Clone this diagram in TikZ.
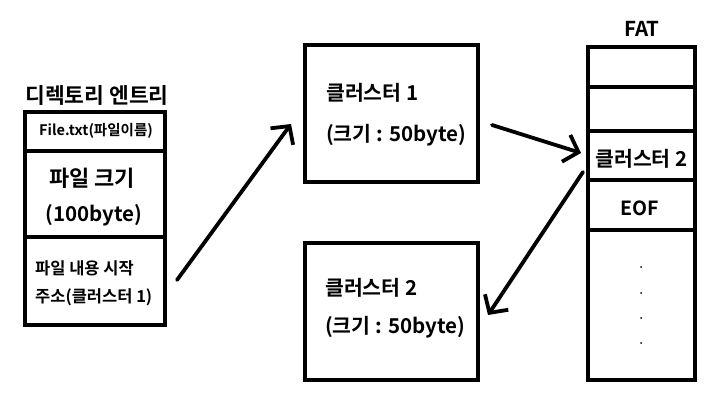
\documentclass[tikz,border=0pt]{standalone}
\usepackage{fontspec}
\setmainfont{Noto Sans CJK KR}[BoldFont={Noto Sans CJK KR Bold}]
\usetikzlibrary{calc,arrows.meta}
\begin{document}
\begin{tikzpicture}[x=1pt,y=-1pt,
  cell/.style={draw=black,line width=4pt,rectangle,inner sep=0pt,minimum width=#1},
  txt/.style={inner sep=0pt,font=\bfseries\fontsize{20.5}{22}\selectfont},
  small/.style={inner sep=0pt,font=\bfseries\fontsize{16.5}{18}\selectfont},
  conn/.style={line width=3.8pt,line cap=round,line join=round,-{Straight Barb[length=13pt,width=28pt,line width=3.8pt]}}]
\useasboundingbox[fill=white] (0,0) rectangle (720,407);
% directory entry
\node[txt,font=\bfseries\fontsize{21.5}{23}\selectfont] (etitle) at (97,95) {디렉토리 엔트리};
\node[cell=140pt,minimum height=39pt] (e1) at (95,131.5) {};
\node[cell=140pt,minimum height=86pt] (e2) at (95,194) {};
\node[cell=140pt,minimum height=88pt] (e3) at (95,281) {};
\node[small,font=\bfseries\fontsize{14.5}{16}\selectfont] (t1) at (96,131) {File.txt(파일이름)};
\node[txt,font=\bfseries\fontsize{22}{24}\selectfont] (t2) at (92,178) {파일 크기};
\node[txt] (t3) at (94,215) {(100byte)};
\node[small,anchor=west] (t4) at (35,268) {파일 내용 시작};
\node[small,anchor=west] (t5) at (35,297) {주소(클러스터 1)};
% clusters
\node[cell=173pt,minimum height=137pt] (c1) at (391.5,113.5) {};
\node[txt,anchor=west] (c1a) at (326,93) {클러스터 1};
\node[txt,anchor=west] (c1b) at (326,135) {(크기 : 50byte)};
\node[cell=173pt,minimum height=137pt] (c2) at (391.5,311.5) {};
\node[txt,anchor=west] (c2a) at (325,288) {클러스터 2};
\node[txt,anchor=west] (c2b) at (325,327) {(크기 : 50byte)};
% FAT
\node[txt] (ftitle) at (642,29) {FAT};
\node[cell=107pt,minimum height=40pt] (f1) at (641.5,67) {};
\node[cell=107pt,minimum height=44pt] (f2) at (641.5,109) {};
\node[cell=107pt,minimum height=49pt] (f3) at (641.5,155.5) {};
\node[cell=107pt,minimum height=50pt] (f4) at (641.5,205) {};
\node[cell=107pt,minimum height=150pt] (f5) at (641.5,305) {};
\node[txt] (f3t) at (641.5,159) {클러스터 2};
\node[txt,font=\bfseries\fontsize{19.5}{21}\selectfont] (f4t) at (640,208) {EOF};
\foreach \yy/\nm in {267/d1,293/d2,318/d3,343/d4}
  \node[circle,fill=black,inner sep=0pt,minimum size=2pt] (\nm) at (641,\yy) {};
% connectors
\draw[conn] ($(e3.south east)+(10,-47)$) -- ($(c1.south west)+(-12,-60)$);
\draw[conn] ($(c1.east)+(12,11.5)$) -- ($(f3.west)+(-5,-2.5)$);
\draw[conn] ($(f3.south west)+(-3,-10)$) -- ($(c2.east)+(8,3.5)$);
\end{tikzpicture}
\end{document}
